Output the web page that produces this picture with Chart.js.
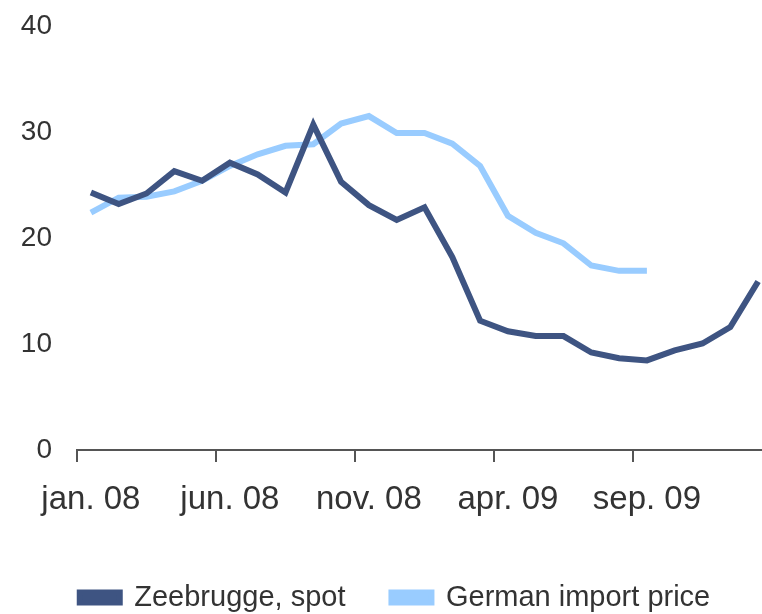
<!DOCTYPE html>
<html><head><meta charset="utf-8">
<script src="https://cdn.jsdelivr.net/npm/chart.js@4.4.1/dist/chart.umd.min.js"></script>
<style>
html,body{margin:0;padding:0;background:#fff;overflow:hidden;width:762px;height:614px;}
#wrap{position:relative;margin-left:18px;width:774px;height:622px;}
</style></head><body>
<div id="wrap"><canvas id="c" width="774" height="622"></canvas></div>
<script>
const months = ['jan. 08','feb. 08','mar. 08','apr. 08','mai. 08','jun. 08','jul. 08','aug. 08','sep. 08','okt. 08','nov. 08','des. 08',
  'jan. 09','feb. 09','mar. 09','apr. 09','mai. 09','jun. 09','jul. 09','aug. 09','sep. 09','okt. 09','nov. 09','des. 09','jan. 10'];
const zeebrugge = [24.3,23.2,24.2,26.3,25.4,27.1,26.0,24.3,30.7,25.3,23.1,21.7,22.9,18.2,12.2,11.2,10.75,10.75,9.2,8.65,8.45,9.4,10.05,11.6,15.9];
const germanImport = [22.4,23.8,23.9,24.4,25.4,26.8,27.9,28.7,28.85,30.8,31.5,29.9,29.9,28.9,26.8,22.1,20.5,19.5,17.4,16.9,16.9,null,null,null,null];
const yTicks = [0,10,20,30,40];
const labelEvery = 5;

const sans = "'Liberation Sans',Arial,sans-serif";
new Chart(document.getElementById('c'), {
  type: 'line',
  data: {
    labels: months,
    datasets: [
      {label: 'Zeebrugge, spot', data: zeebrugge, borderColor: '#3e5482', backgroundColor: '#3e5482', borderWidth: 6, pointRadius: 0, tension: 0, spanGaps: false},
      {label: 'German import price', data: germanImport, borderColor: '#99ccff', backgroundColor: '#99ccff', borderWidth: 6, pointRadius: 0, tension: 0, spanGaps: false}
    ]
  },
  options: {
    responsive: false,
    animation: false,
    layout: {padding: {top: 26, right: 20, left: 0, bottom: 0}},
    plugins: {
      tooltip: {enabled: false},
      legend: {
        position: 'bottom',
        labels: {
          boxWidth: 40, boxHeight: 10, padding: 46,
          color: '#333333',
          font: {family: sans, size: 29}
        }
      }
    },
    scales: {
      x: {
        type: 'category',
        offset: true,
        grid: {
          offset: true, drawOnChartArea: false, drawTicks: true, tickLength: 12,
          color: (ctx) => (ctx.index % labelEvery === 0 ? '#555555' : 'rgba(0,0,0,0)'),
          lineWidth: 2
        },
        border: {display: true, color: '#555555', width: 2},
        ticks: {
          autoSkip: false, maxRotation: 0, minRotation: 0, padding: 18,
          color: '#333333',
          font: {family: sans, size: 33},
          callback: function(v, i) { return i % labelEvery === 0 ? months[i] : ''; }
        },
        afterFit: (s) => { s.height = 87; }
      },
      y: {
        min: 0, max: 40,
        afterBuildTicks: (s) => { s.ticks = yTicks.map(v => ({value: v})); },
        grid: {display: false},
        border: {display: false},
        ticks: {padding: 17, color: '#333333', font: {family: sans, size: 28}},
        afterFit: (s) => { s.width = 59; s.paddingTop = 0; s.paddingBottom = 0; }
      }
    }
  }
});
</script>
</body></html>
